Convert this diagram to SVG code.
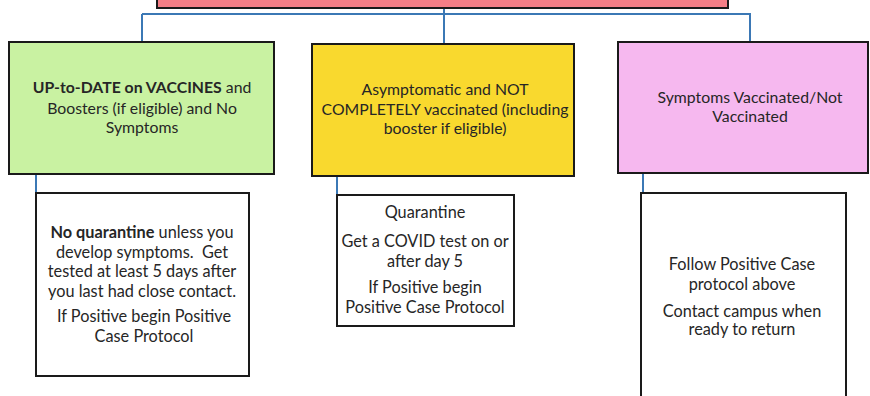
<svg xmlns="http://www.w3.org/2000/svg" width="870" height="396" viewBox="0 0 870 396">
<style>
  .box { stroke: #1a1a1a; stroke-width: 2; }
  .child { fill: #ffffff; stroke: #1a1a1a; stroke-width: 2; }
  .conn { fill: none; stroke: #3b78b5; stroke-width: 2; }
  text { font-family: Lato, "Liberation Sans", sans-serif; font-size: 15.8px; fill: #262626; text-anchor: middle; }
  .c text { font-size: 16.3px; }
  .b { font-weight: bold; }
</style>
<rect width="870" height="396" fill="#ffffff"/>
<g id="connectors">
  <path class="conn" d="M444 8 V14 M142 14 H751 M142 14 V42 M444 14 V44 M750 14 V42"/>
  <path class="conn" d="M36 174 V193 M337 176 V195 M643 174 V255"/>
</g>
<g id="top">
  <rect class="box" x="157" y="-10" width="571" height="18" fill="#f47e86"/>
</g>
<g id="uptodate">
  <rect class="box" x="9" y="42" width="265" height="132" fill="#c9f2a2"/>
  <text x="142" y="93"><tspan class="b">UP-to-DATE on VACCINES</tspan> and</text>
  <text x="142" y="114">Boosters (if eligible) and No</text>
  <text x="142" y="133">Symptoms</text>
</g>
<g id="asymptomatic">
  <rect class="box" x="312" y="44" width="262" height="132" fill="#f9d92e"/>
  <text x="445" y="95">Asymptomatic and NOT</text>
  <text x="445" y="115">COMPLETELY vaccinated (including</text>
  <text x="445" y="134">booster if eligible)</text>
</g>
<g id="symptoms">
  <rect class="box" x="618" y="42" width="250" height="131" fill="#f6b8ef"/>
  <text x="750" y="103">Symptoms Vaccinated/Not</text>
  <text x="750" y="122">Vaccinated</text>
</g>
<g id="noquarantine" class="c">
  <rect class="child" x="36" y="193" width="213" height="183"/>
  <text x="142" y="238"><tspan class="b">No quarantine</tspan> unless you</text>
  <text x="142" y="258">develop symptoms.&#160; Get</text>
  <text x="142" y="277">tested at least 5 days after</text>
  <text x="142" y="297">you last had close contact.</text>
  <text x="144" y="322">If Positive begin Positive</text>
  <text x="144" y="342">Case Protocol</text>
</g>
<g id="quarantine" class="c">
  <rect class="child" x="337" y="195" width="177" height="131"/>
  <text x="425" y="218">Quarantine</text>
  <text x="425" y="247">Get a COVID test on or</text>
  <text x="425" y="267">after day 5</text>
  <text x="425" y="293">If Positive begin</text>
  <text x="425" y="313">Positive Case Protocol</text>
</g>
<g id="followprotocol" class="c">
  <rect class="child" x="641" y="193" width="205" height="215"/>
  <text x="742" y="270">Follow Positive Case</text>
  <text x="742" y="290">protocol above</text>
  <text x="742" y="317">Contact campus when</text>
  <text x="742" y="335">ready to return</text>
</g>
</svg>
